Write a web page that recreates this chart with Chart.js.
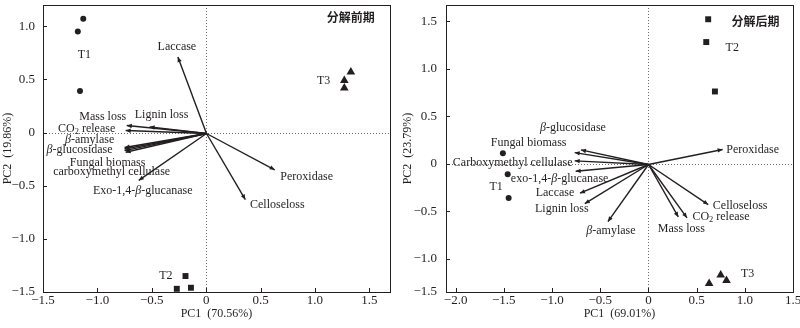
<!DOCTYPE html>
<html>
<head>
<meta charset="utf-8">
<script src="https://cdn.jsdelivr.net/npm/chart.js@4.4.1/dist/chart.umd.min.js"></script>
<style>
  body { margin: 0; background: #fff; }
  #wrap { display: flex; width: 800px; height: 328px; }
  canvas { display: block; }
</style>
</head>
<body>
<div id="wrap">
  <canvas id="earlyChart" width="400" height="328"></canvas>
  <canvas id="lateChart" width="400" height="328"></canvas>
</div>
<script>
// ---------- early stage (分解前期) ----------
const earlyVars = ['Laccase', 'Mass loss', 'Lignin loss', 'CO2 release', 'β-amylase', 'β-glucosidase',
  'Fungal biomass', 'carboxymethyl cellulase', 'Exo-1,4-β-glucanase', 'Celloseloss', 'Peroxidase'];
const earlyPC1 = [-0.26, -0.73, -0.52, -0.74, -0.75, -0.75, -0.75, -0.74, -0.62, 0.36, 0.63];
const earlyPC2 = [0.71, 0.066, 0.053, 0.019, -0.14, -0.155, -0.17, -0.185, -0.45, -0.63, -0.35];
const earlyT1x = [-1.13, -1.18, -1.16], earlyT1y = [1.07, 0.95, 0.39];
const earlyT2x = [-0.19, -0.27, -0.14], earlyT2y = [-1.35, -1.47, -1.46];
const earlyT3x = [1.33, 1.27, 1.27], earlyT3y = [0.57, 0.49, 0.42];
const earlyXTicks = [-1.5, -1, -0.5, 0, 0.5, 1, 1.5];
const earlyYTicks = [-1.5, -1, -0.5, 0, 0.5, 1];

// ---------- late stage (分解后期) ----------
const lateVars = ['β-glucosidase', 'Fungal biomass', 'Carboxymethyl cellulase', 'exo-1,4-β-glucanase', 'Laccase',
  'Lignin loss', 'β-amylase', 'Mass loss', 'CO2 release', 'Celloseloss', 'Peroxidase'];
const latePC1 = [-0.70, -0.765, -0.765, -0.755, -0.71, -0.66, -0.42, 0.31, 0.40, 0.62, 0.77];
const latePC2 = [0.145, 0.117, 0.03, -0.08, -0.31, -0.42, -0.61, -0.56, -0.57, -0.43, 0.15];
const lateT1x = [-1.51, -1.46, -1.45], lateT1y = [0.11, -0.11, -0.36];
const lateT2x = [0.62, 0.60, 0.69], lateT2y = [1.52, 1.28, 0.76];
const lateT3x = [0.63, 0.75, 0.81], lateT3y = [-1.26, -1.17, -1.23];
const lateXTicks = [-2, -1.5, -1, -0.5, 0, 0.5, 1, 1.5];
const lateYTicks = [-1.35, -1, -0.5, 0, 0.5, 1, 1.5];

// label placement (px offset from arrow tip), kept apart from the data
const earlyLabelOff = [[-1, -10], [-24, -9], [12, -12], [-39, -2], [-35, -8], [-45, 1], [-17, 12], [-14, 20], [4, 10], [32, 5], [32, 7]];
const lateLabelOff = [[-8, -22], [-46, -10], [-62, 2], [-16, 8], [-25, 0], [-23, 5], [3, 9], [3, 12], [34, -1], [32, 1], [30, 0]];

const INK = '#231f20';
const SERIF = '"Liberation Serif", "DejaVu Serif", serif';

function pts(xs, ys) { return xs.map((x, i) => ({ x: x, y: ys[i] })); }

function fmt(v) {
  if (v === 0) return '0';
  const s = Math.abs(v).toFixed(1);
  return v < 0 ? '\u2212' + s : s;
}

// draw text with italic β and subscript 2 in CO2
function drawRich(ctx, text, cx, cy, size) {
  const parts = [];
  for (let i = 0; i < text.length; i++) {
    const ch = text[i];
    if (ch === 'β') parts.push({ t: ch, f: 'italic ' + size + 'px ' + SERIF, dy: 0 });
    else if (ch === '2' && text.slice(i - 2, i) === 'CO') parts.push({ t: ch, f: (size * 0.7) + 'px ' + SERIF, dy: 3 });
    else parts.push({ t: ch, f: size + 'px ' + SERIF, dy: 0 });
  }
  let w = 0;
  parts.forEach(p => { ctx.font = p.f; p.w = ctx.measureText(p.t).width; w += p.w; });
  let x = cx - w / 2;
  ctx.textAlign = 'left';
  ctx.textBaseline = 'middle';
  ctx.fillStyle = INK;
  parts.forEach(p => { ctx.font = p.f; ctx.fillText(p.t, x, cy + p.dy); x += p.w; });
}

function biplotPlugin(cfg) {
  return {
    id: 'biplot',
    beforeDatasetsDraw(chart) {
      const { ctx, chartArea: a, scales: { x, y } } = chart;
      ctx.save();
      // zero lines
      ctx.strokeStyle = '#6d6d6d';
      ctx.lineWidth = 1;
      ctx.setLineDash([1, 2]);
      const x0 = Math.round(x.getPixelForValue(0)) + 0.5, y0 = Math.round(y.getPixelForValue(0)) + 0.5;
      ctx.beginPath();
      ctx.moveTo(x0, a.top); ctx.lineTo(x0, a.bottom);
      ctx.moveTo(a.left, y0); ctx.lineTo(a.right, y0);
      ctx.stroke();
      ctx.setLineDash([]);
      // frame + inward ticks
      ctx.strokeStyle = INK;
      ctx.lineWidth = 1;
      ctx.strokeRect(Math.round(a.left) + 0.5, Math.round(a.top) + 0.5, Math.round(a.right - a.left), Math.round(a.bottom - a.top));
      ctx.beginPath();
      x.ticks.forEach(t => {
        const px = Math.round(x.getPixelForValue(t.value)) + 0.5;
        ctx.moveTo(px, a.bottom); ctx.lineTo(px, a.bottom - 4);
      });
      y.ticks.forEach(t => {
        const py = Math.round(y.getPixelForValue(t.value)) + 0.5;
        ctx.moveTo(a.left, py); ctx.lineTo(a.left + 4, py);
      });
      ctx.stroke();
      // loading vectors
      ctx.strokeStyle = INK;
      ctx.fillStyle = INK;
      ctx.lineWidth = 1.4;
      cfg.px.forEach((vx, i) => {
        const tx = x.getPixelForValue(vx), ty = y.getPixelForValue(cfg.py[i]);
        ctx.beginPath();
        ctx.moveTo(x0, y0); ctx.lineTo(tx, ty);
        ctx.stroke();
        const ang = Math.atan2(ty - y0, tx - x0), L = 5, H = 2.2;
        ctx.beginPath();
        ctx.moveTo(tx, ty);
        ctx.lineTo(tx - L * Math.cos(ang) + H * Math.sin(ang), ty - L * Math.sin(ang) - H * Math.cos(ang));
        ctx.lineTo(tx - L * Math.cos(ang) - H * Math.sin(ang), ty - L * Math.sin(ang) + H * Math.cos(ang));
        ctx.closePath();
        ctx.fill();
        const off = cfg.off[i];
        drawRich(ctx, cfg.names[i], tx + off[0], ty + off[1], 12);
      });
      // group labels and panel title
      cfg.groups.forEach(g => drawRich(ctx, g.t, x.getPixelForValue(g.x), y.getPixelForValue(g.y), 12));
      ctx.font = 'bold 12px "Noto Sans CJK SC", sans-serif';
      ctx.textAlign = 'center';
      ctx.textBaseline = 'middle';
      ctx.fillText(cfg.title.t, x.getPixelForValue(cfg.title.x), y.getPixelForValue(cfg.title.y));
      ctx.restore();
    }
  };
}

function makeChart(id, o) {
  const ds = (data, style, r) => ({
    data: data, pointStyle: style, pointRadius: r, pointHoverRadius: r,
    backgroundColor: INK, borderColor: INK, borderWidth: 0, showLine: false
  });
  return new Chart(document.getElementById(id), {
    type: 'scatter',
    data: { datasets: [ds(o.t1, 'circle', 3), ds(o.t2, 'rect', 4.2), ds(o.t3, 'triangle', 5)] },
    options: {
      responsive: false,
      devicePixelRatio: 1,
      animation: false,
      events: [],
      layout: { padding: o.pad },
      plugins: { legend: { display: false }, tooltip: { enabled: false } },
      scales: {
        x: {
          type: 'linear', min: o.xmin, max: o.xmax,
          grid: { display: false, drawTicks: false }, border: { display: false },
          afterBuildTicks: s => { s.ticks = o.xticks.map(v => ({ value: v })); },
          afterFit: s => { s.height = 36; s.paddingLeft = 0; s.paddingRight = 0; },
          ticks: { color: INK, font: { family: SERIF, size: 13 }, padding: 1, maxRotation: 0, callback: v => fmt(v) },
          title: { display: true, text: o.xtitle, color: INK, font: { family: SERIF, size: 12 }, padding: { top: 0, bottom: 7 } }
        },
        y: {
          type: 'linear', min: o.ymin, max: o.ymax,
          grid: { display: false, drawTicks: false }, border: { display: false },
          afterBuildTicks: s => { s.ticks = o.yticks.map(v => ({ value: v })); },
          afterFit: s => { s.width = o.yw; s.paddingTop = 0; s.paddingBottom = 0; },
          ticks: { color: INK, font: { family: SERIF, size: 13 }, padding: o.ytp, callback: o.ylab },
          title: { display: true, text: o.ytitle, color: INK, font: { family: SERIF, size: 12 }, padding: { top: 1, bottom: 0 } }
        }
      }
    },
    plugins: [biplotPlugin(o.bip)]
  });
}

makeChart('earlyChart', {
  t1: pts(earlyT1x, earlyT1y), t2: pts(earlyT2x, earlyT2y), t3: pts(earlyT3x, earlyT3y),
  xmin: -1.5, xmax: 1.69, ymin: -1.5, ymax: 1.2,
  xticks: earlyXTicks, yticks: earlyYTicks, yw: 43, ytp: 8,
  pad: { left: 0, right: 10, top: 3, bottom: 0 },
  ylab: v => fmt(v),
  xtitle: 'PC1  (70.56%)', ytitle: 'PC2  (19.86%)',
  bip: {
    names: earlyVars, px: earlyPC1, py: earlyPC2, off: earlyLabelOff,
    groups: [{ t: 'T1', x: -1.12, y: 0.73 }, { t: 'T2', x: -0.37, y: -1.35 }, { t: 'T3', x: 1.08, y: 0.49 }],
    title: { t: '分解前期', x: 1.33, y: 1.08 }
  }
});

makeChart('lateChart', {
  t1: pts(lateT1x, lateT1y), t2: pts(lateT2x, lateT2y), t3: pts(lateT3x, lateT3y),
  xmin: -2.1, xmax: 1.5, ymin: -1.35, ymax: 1.67,
  xticks: lateXTicks, yticks: lateYTicks, yw: 46, ytp: 9,
  pad: { left: 0, right: 7, top: 2, bottom: 0 },
  // bottom tick of the original is printed as -1.5 at the axis edge
  ylab: v => (v === -1.35 ? '\u22121.5' : fmt(v)),
  xtitle: 'PC1  (69.01%)', ytitle: 'PC2  (23.79%)',
  bip: {
    names: lateVars, px: latePC1, py: latePC2, off: lateLabelOff,
    groups: [{ t: 'T1', x: -1.58, y: -0.24 }, { t: 'T2', x: 0.87, y: 1.22 }, { t: 'T3', x: 1.03, y: -1.16 }],
    title: { t: '分解后期', x: 1.11, y: 1.50 }
  }
});
</script>
</body>
</html>
